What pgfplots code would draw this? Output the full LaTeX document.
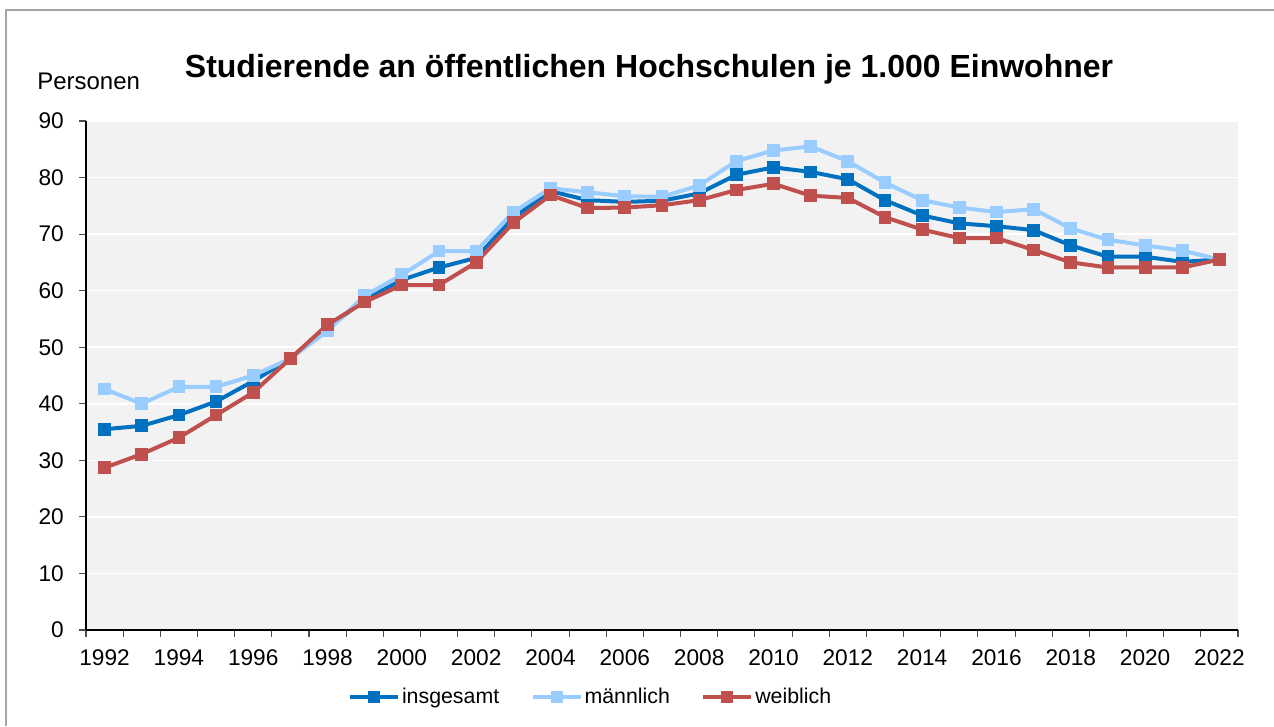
\documentclass[border=0pt]{standalone}
\usepackage{fontspec}
\setmainfont{Liberation Sans}
\usepackage{pgfplots}
\usepackage{pgfplotstable}
\pgfplotsset{compat=1.18}
\definecolor{cIns}{HTML}{0070C0}
\definecolor{cMan}{HTML}{99CCFF}
\definecolor{cWei}{HTML}{C0504D}
\definecolor{plotbg}{HTML}{F2F2F2}
\definecolor{framegray}{HTML}{A6A6A6}
\pgfplotstableread{
i ins man wei
0 35.5 42.6 28.7
1 36.1 40.0 31.1
2 38.0 43.0 34.0
3 40.4 43.0 38.0
4 44.0 45.0 42.0
5 48.0 48.0 48.0
6 53.4 52.9 54.0
7 58.4 59.1 58.0
8 61.9 62.8 61.0
9 64.1 67.0 61.0
10 65.8 67.0 65.0
11 72.9 73.9 72.0
12 77.6 78.1 76.9
13 76.0 77.4 74.6
14 75.7 76.7 74.7
15 75.9 76.6 75.1
16 77.2 78.6 76.0
17 80.5 82.9 77.8
18 81.8 84.8 78.9
19 81.0 85.5 76.8
20 79.7 82.9 76.4
21 76.0 79.1 73.0
22 73.3 76.0 70.8
23 71.9 74.7 69.3
24 71.4 73.9 69.3
25 70.7 74.4 67.2
26 68.0 71.0 65.0
27 66.0 69.0 64.1
28 66.0 68.0 64.1
29 65.1 67.1 64.1
30 65.5 65.5 65.5
}\datatab
\begin{document}
\begin{tikzpicture}
\path[use as bounding box] (0pt,0pt) rectangle (955.5pt,544.5pt);
\draw[framegray, line width=0.8pt] (4.5pt,0pt) -- (4.5pt,537pt) -- (955.5pt,537pt);
\node[anchor=base, inner sep=0pt, font=\bfseries\fontsize{24}{28}\selectfont] at (486.75pt,486pt) {Studierende an öffentlichen Hochschulen je 1.000 Einwohner};
\node[anchor=base west, inner sep=0pt, font=\fontsize{18}{21}\selectfont] at (27.75pt,477pt) {Personen};
\begin{axis}[
  at={(64.5pt,72pt)}, anchor=south west,
  scale only axis, width=864pt, height=381.75pt,
  xmin=-0.5, xmax=30.5, ymin=0, ymax=90,
  axis background/.style={fill=plotbg},
  axis x line=bottom, axis y line=left,
  axis line style={-, black, line width=0.8pt},
  tick align=outside,
  major tick length=5pt, minor tick length=5pt,
  tick style={black!70, line width=0.8pt},
  ytick={0,10,...,90},
  xtick={0,2,...,30},
  xticklabels={1992,1994,1996,1998,2000,2002,2004,2006,2008,2010,2012,2014,2016,2018,2020,2022},
  major x tick style={draw=none},
  minor xtick={-0.5,0.5,...,30.5},
  ymajorgrids, major grid style={white, line width=1.2pt},
  tick label style={font=\fontsize{17}{20}\selectfont},
  /pgf/number format/assume math mode=true,
  yticklabel style={inner xsep=2pt, xshift=-9.5pt},
  xticklabel style={inner ysep=2pt, yshift=-7.5pt},
  every axis plot/.append style={line width=3pt, mark=square*, mark size=3.3pt, mark options={solid}},
  legend columns=3,
  legend style={at={(0.438,-0.1316)}, anchor=center, draw=none, fill=none,
    font=\fontsize{16}{19}\selectfont,
    nodes={inner xsep=1.5pt, inner ysep=1pt},
    /tikz/every even column/.append style={column sep=22pt}},
  legend image code/.code={\draw[line width=3pt, mark size=3pt, mark repeat=2, mark phase=2] plot coordinates {(0pt,0pt) (18pt,0pt) (36pt,0pt)};},
]
\addplot[cIns] table[x=i, y=ins] {\datatab};
\addlegendentry{insgesamt}
\addplot[cMan] table[x=i, y=man] {\datatab};
\addlegendentry{männlich}
\addplot[cWei] table[x=i, y=wei] {\datatab};
\addlegendentry{weiblich}
\end{axis}
\end{tikzpicture}
\end{document}
